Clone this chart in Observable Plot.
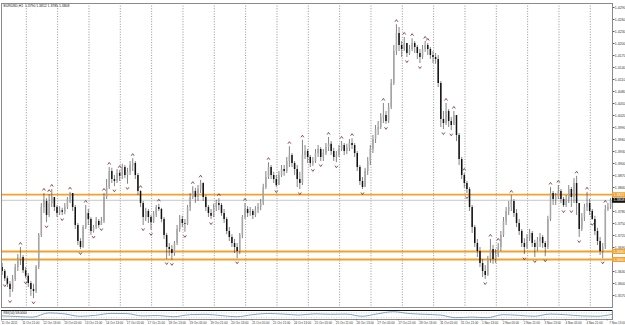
<!DOCTYPE html>
<html><head><meta charset="utf-8">
<script src="https://cdn.jsdelivr.net/npm/d3@7"></script>
<script src="https://cdn.jsdelivr.net/npm/@observablehq/plot@0.6"></script>
<style>
html,body{margin:0;padding:0;background:#fff;}
#chart svg{display:block;}
</style></head>
<body><div id="chart"></div>
<script>
// ---- data (EURUSD; one entry per 2 hourly bars) ----
const symbolName = "EURUSD,H1";
const firstOpen = 1.3640;
const closes = [
1.3630,1.3612,1.3598,1.3585,1.3610,1.3640,1.3660,1.3665,1.3632,1.3618,
1.3600,1.3585,1.3580,1.3640,1.3720,1.3790,1.3805,1.3770,1.3800,1.3815,
1.3790,1.3775,1.3782,1.3778,1.3790,1.3810,1.3825,1.3790,1.3745,1.3705,
1.3690,1.3740,1.3775,1.3760,1.3730,1.3740,1.3755,1.3745,1.3755,1.3815,
1.3840,1.3880,1.3860,1.3855,1.3875,1.3868,1.3890,1.3870,1.3878,1.3895,
1.3900,1.3870,1.3830,1.3800,1.3765,1.3780,1.3765,1.3752,1.3772,1.3790,
1.3785,1.3760,1.3720,1.3690,1.3685,1.3675,1.3700,1.3735,1.3760,1.3750,
1.3748,1.3790,1.3815,1.3830,1.3815,1.3835,1.3850,1.3815,1.3790,1.3775,
1.3768,1.3790,1.3800,1.3795,1.3775,1.3760,1.3730,1.3715,1.3700,1.3690,
1.3680,1.3720,1.3765,1.3785,1.3775,1.3780,1.3770,1.3785,1.3790,1.3800,
1.3840,1.3865,1.3890,1.3870,1.3860,1.3845,1.3870,1.3885,1.3880,1.3905,
1.3920,1.3900,1.3885,1.3860,1.3850,1.3920,1.3930,1.3915,1.3900,1.3905,
1.3925,1.3935,1.3915,1.3925,1.3940,1.3948,1.3930,1.3915,1.3920,1.3935,
1.3945,1.3930,1.3938,1.3950,1.3945,1.3925,1.3890,1.3855,1.3840,1.3880,
1.3905,1.3935,1.3960,1.3985,1.3990,1.4015,1.4020,1.4005,1.4040,1.4100,
1.4180,1.4225,1.4195,1.4185,1.4200,1.4175,1.4185,1.4200,1.4190,1.4175,
1.4165,1.4185,1.4195,1.4185,1.4170,1.4165,1.4160,1.4100,1.4010,1.4000,
1.4030,1.4005,1.3995,1.4020,1.3970,1.3910,1.3870,1.3850,1.3835,1.3790,
1.3740,1.3700,1.3680,1.3650,1.3630,1.3620,1.3660,1.3685,1.3660,1.3670,
1.3690,1.3720,1.3755,1.3780,1.3790,1.3805,1.3775,1.3750,1.3730,1.3700,
1.3690,1.3712,1.3725,1.3700,1.3690,1.3705,1.3715,1.3700,1.3690,1.3760,
1.3825,1.3810,1.3815,1.3830,1.3810,1.3795,1.3810,1.3835,1.3815,1.3850,
1.3800,1.3735,1.3765,1.3790,1.3800,1.3780,1.3760,1.3730,1.3705,1.3680,
1.3690,1.3785,1.3790,1.3808];
const highs = [
1.3650,1.3635,1.3618,1.3605,1.3620,1.3648,1.3672,1.3690,1.3670,1.3640,
1.3625,1.3605,1.3598,1.3645,1.3725,1.3800,1.3825,1.3812,1.3822,1.3835,
1.3815,1.3795,1.3792,1.3788,1.3800,1.3815,1.3828,1.3825,1.3795,1.3750,
1.3712,1.3745,1.3795,1.3785,1.3765,1.3745,1.3765,1.3760,1.3765,1.3825,
1.3860,1.3890,1.3888,1.3870,1.3885,1.3882,1.3898,1.3895,1.3888,1.3905,
1.3912,1.3905,1.3875,1.3832,1.3805,1.3788,1.3785,1.3770,1.3780,1.3795,
1.3798,1.3788,1.3765,1.3725,1.3700,1.3695,1.3705,1.3745,1.3770,1.3768,
1.3760,1.3795,1.3825,1.3842,1.3838,1.3845,1.3858,1.3852,1.3820,1.3795,
1.3785,1.3798,1.3808,1.3812,1.3800,1.3785,1.3765,1.3740,1.3722,1.3710,
1.3700,1.3725,1.3770,1.3800,1.3792,1.3790,1.3785,1.3792,1.3800,1.3810,
1.3848,1.3880,1.3902,1.3895,1.3878,1.3870,1.3880,1.3895,1.3895,1.3915,
1.3942,1.3925,1.3905,1.3895,1.3878,1.3958,1.3945,1.3935,1.3920,1.3915,
1.3935,1.3945,1.3940,1.3935,1.3950,1.3965,1.3955,1.3938,1.3930,1.3945,
1.3955,1.3950,1.3948,1.3960,1.3962,1.3950,1.3930,1.3895,1.3865,1.3888,
1.3915,1.3945,1.3970,1.3995,1.4005,1.4025,1.4050,1.4030,1.4050,1.4110,
1.4195,1.4247,1.4240,1.4205,1.4215,1.4200,1.4195,1.4212,1.4205,1.4195,
1.4185,1.4195,1.4205,1.4200,1.4190,1.4180,1.4175,1.4170,1.4105,1.4030,
1.4050,1.4035,1.4015,1.4030,1.4020,1.3975,1.3915,1.3875,1.3855,1.3840,
1.3795,1.3745,1.3710,1.3690,1.3660,1.3645,1.3668,1.3710,1.3695,1.3685,
1.3700,1.3730,1.3765,1.3790,1.3805,1.3820,1.3810,1.3785,1.3760,1.3735,
1.3712,1.3722,1.3735,1.3730,1.3708,1.3715,1.3725,1.3720,1.3705,1.3768,
1.3840,1.3830,1.3825,1.3845,1.3835,1.3815,1.3820,1.3845,1.3840,1.3862,
1.3868,1.3800,1.3775,1.3798,1.3828,1.3810,1.3785,1.3768,1.3738,1.3715,
1.3700,1.3795,1.3800,1.3812];
const lows = [
1.3620,1.3605,1.3590,1.3565,1.3578,1.3605,1.3630,1.3645,1.3625,1.3612,
1.3590,1.3568,1.3562,1.3575,1.3635,1.3715,1.3775,1.3752,1.3765,1.3790,
1.3780,1.3765,1.3770,1.3770,1.3772,1.3785,1.3800,1.3780,1.3735,1.3695,
1.3685,1.3688,1.3735,1.3745,1.3720,1.3726,1.3735,1.3738,1.3745,1.3750,
1.3810,1.3835,1.3850,1.3842,1.3850,1.3855,1.3860,1.3862,1.3848,1.3870,
1.3880,1.3860,1.3820,1.3790,1.3745,1.3755,1.3750,1.3733,1.3750,1.3765,
1.3780,1.3752,1.3710,1.3660,1.3668,1.3658,1.3668,1.3695,1.3728,1.3740,
1.3728,1.3745,1.3780,1.3810,1.3800,1.3805,1.3825,1.3805,1.3780,1.3765,
1.3760,1.3765,1.3780,1.3782,1.3768,1.3750,1.3722,1.3705,1.3690,1.3675,
1.3662,1.3672,1.3712,1.3760,1.3765,1.3768,1.3760,1.3765,1.3775,1.3782,
1.3795,1.3835,1.3860,1.3860,1.3850,1.3840,1.3845,1.3865,1.3868,1.3875,
1.3890,1.3890,1.3870,1.3840,1.3835,1.3845,1.3910,1.3900,1.3890,1.3893,
1.3900,1.3915,1.3905,1.3905,1.3920,1.3930,1.3920,1.3905,1.3902,1.3915,
1.3930,1.3920,1.3922,1.3930,1.3935,1.3915,1.3880,1.3845,1.3835,1.3840,
1.3870,1.3895,1.3925,1.3950,1.3970,1.3985,1.4000,1.3998,1.4000,1.4035,
1.4095,1.4170,1.4180,1.4165,1.4180,1.4165,1.4170,1.4180,1.4175,1.4160,
1.4150,1.4160,1.4178,1.4170,1.4160,1.4150,1.4148,1.4090,1.3990,1.3985,
1.3995,1.3990,1.3982,1.3995,1.3955,1.3895,1.3860,1.3838,1.3825,1.3780,
1.3725,1.3690,1.3665,1.3640,1.3615,1.3610,1.3618,1.3650,1.3648,1.3650,
1.3665,1.3680,1.3715,1.3745,1.3770,1.3780,1.3765,1.3740,1.3720,1.3690,
1.3672,1.3685,1.3705,1.3690,1.3665,1.3680,1.3690,1.3688,1.3667,1.3685,
1.3755,1.3795,1.3795,1.3810,1.3800,1.3790,1.3790,1.3800,1.3790,1.3800,
1.3770,1.3715,1.3730,1.3755,1.3780,1.3770,1.3758,1.3720,1.3695,1.3670,
1.3662,1.3685,1.3780,1.3785];
const fractalUp = [7,16,18,19,26,32,39,41,45,50,53,60,73,76,83,93,102,110,115,125,130,134,146,151,154,157,162,163,170,173,177,187,190,195,210,213,220,224,231];
const fractalDown = [1,3,9,12,17,23,30,35,38,43,48,54,57,63,65,70,80,90,105,114,119,122,128,138,147,155,160,169,172,178,185,200,204,208,215,218,221,226,230];
const levels = [1.3822, 1.3680, 1.3660];
const priceTicks = [1.4290,1.4260,1.4230,1.4200,1.4170,1.4140,1.4110,1.4080,1.4050,1.4020,1.3990,1.3960,1.3930,1.3900,1.3870,1.3840,1.3810,1.3780,1.3750,1.3720,1.3690,1.3660,1.3630,1.3600,1.3570];
const xLabels = ["11 Oct 2011","11 Oct 21:00","12 Oct 13:00","13 Oct 05:00","13 Oct 21:00","14 Oct 13:00","17 Oct 05:00","17 Oct 21:00","18 Oct 13:00","19 Oct 05:00","19 Oct 21:00","20 Oct 13:00","21 Oct 05:00","21 Oct 21:00","24 Oct 13:00","25 Oct 05:00","25 Oct 21:00","26 Oct 13:00","27 Oct 05:00","27 Oct 21:00","28 Oct 13:00","31 Oct 05:00","31 Oct 21:00","1 Nov 13:00","2 Nov 05:00","2 Nov 21:00","3 Nov 13:00","4 Nov 05:00","4 Nov 21:00","7 Nov 13:00"];
const indicatorName = "RSI(14)";
const rsiValues = [45,40,35,70,62,42,50,66,64,45,48,38,55,58,48,38,55,65,60,52,62,58,60,42,62,80,65,58,52,30,35,30,55,50,42,60,55,45,42,58];

// ---- derived structures ----
const barsPerCandle = 2, firstDayStartBar = 19, barsPerDay = 24, labelEvery = 16, rsiEvery = 12;
const nBars = 468;
const candles = closes.map((c, i) => ({
  bar: i * barsPerCandle + 0.5,
  open: i ? closes[i - 1] : firstOpen, close: c, high: highs[i], low: lows[i]
}));
const dayStarts = d3.range(firstDayStartBar, nBars, barsPerDay);
const xTicks = xLabels.map((t, k) => ({bar: k * labelEvery, t}));
const rsi = rsiValues.map((v, k) => ({bar: k * rsiEvery, v}));
const last = candles[candles.length - 1];
const title = `${symbolName}  ${last.open.toFixed(4)} ${last.high.toFixed(4)} ${last.low.toFixed(4)} ${last.close.toFixed(4)}`;
const xEnd = nBars, xLab = nBars + 10;
const chevUp = {draw(ctx, size){ const s = Math.sqrt(size) * 0.55; ctx.moveTo(-s, s*0.7); ctx.lineTo(0, -s*0.7); ctx.lineTo(s, s*0.7); }};
const chevDown = {draw(ctx, size){ const s = Math.sqrt(size) * 0.55; ctx.moveTo(-s, -s*0.7); ctx.lineTo(0, s*0.7); ctx.lineTo(s, -s*0.7); }};
const orange = "#f2a22c";
const font = {fontFamily: "'Liberation Sans', Arial, sans-serif", background: "#fff", color: "#222"};

const main = Plot.plot({
  width: 625, height: 309, marginLeft: 1, marginRight: 13, marginTop: 3, marginBottom: 2,
  style: font,
  x: {domain: [0, nBars], axis: null},
  y: {domain: [1.3540, 1.4300], axis: null},
  marks: [
    Plot.ruleX(dayStarts, {stroke: "#777", strokeDasharray: "1,1.6", strokeWidth: 0.8}),
    Plot.ruleY([last.close], {stroke: "#c9c9c9", strokeWidth: 1}),
    Plot.ruleY(levels, {stroke: orange, strokeWidth: 1.8}),
    Plot.ruleX(candles, {x: "bar", y1: d => Math.min(d.low, d.open, d.close), y2: d => Math.max(d.high, d.open, d.close), stroke: "#333", strokeWidth: 0.6}),
    Plot.ruleX(candles.filter(d => d.close >= d.open), {x: "bar", y1: "open", y2: "close", stroke: "#a6a6a6", strokeWidth: 1.5}),
    Plot.ruleX(candles.filter(d => d.close < d.open), {x: "bar", y1: "open", y2: "close", stroke: "#111", strokeWidth: 1.5}),
    Plot.dot(fractalUp.map(i => candles[i]), {x: "bar", y: "high", symbol: chevUp, r: 1.5, stroke: "#7a2424", strokeWidth: 0.8, fill: "none", dy: -4}),
    Plot.dot(fractalDown.map(i => candles[i]), {x: "bar", y: "low", symbol: chevDown, r: 1.5, stroke: "#7a2424", strokeWidth: 0.8, fill: "none", dy: 4}),
    Plot.frame({stroke: "#8a8a8a"}),
    Plot.axisY({anchor: "right", ticks: priceTicks, tickFormat: d => d.toFixed(4), fontSize: 3.6, tickSize: 1.5, tickPadding: 0.8, stroke: "#555", fill: "#333"}),
    Plot.ruleY(levels, {x1: xEnd, x2: xLab, stroke: orange, strokeWidth: 5}),
    Plot.text(levels, {x: xEnd, y: d => d, text: d => d.toFixed(4), textAnchor: "start", dx: 1, fontSize: 3.6, fill: "#fff"}),
    Plot.ruleY([last.close], {x1: xEnd, x2: xLab, stroke: "#111", strokeWidth: 5}),
    Plot.text([last.close], {x: xEnd, y: d => d, text: d => d.toFixed(4), textAnchor: "start", dx: 1, fontSize: 3.6, fill: "#fff"}),
    Plot.text([title], {frameAnchor: "top-left", dx: 2, dy: 1, fontSize: 3.4, fill: "#111"})
  ]
});

const body = xTicks.slice(0, -1), tail = xTicks.slice(-1);
const ind = Plot.plot({
  width: 625, height: 16, marginLeft: 1, marginRight: 13, marginTop: 1, marginBottom: 6,
  style: font,
  x: {domain: [0, nBars], axis: null},
  y: {domain: [15, 90], axis: null},
  marks: [
    Plot.ruleY([30, 70], {stroke: "#bdbdbd", strokeDasharray: "1,1.5", strokeWidth: 0.7}),
    Plot.line(rsi, {x: "bar", y: "v", stroke: "#5a8dbf", strokeWidth: 0.8, curve: "monotone-x"}),
    Plot.frame({stroke: "#8a8a8a"}),
    Plot.ruleY([90], {stroke: "#111", strokeWidth: 1.2}),
    Plot.text([`${indicatorName} ${rsiValues[rsiValues.length - 1].toFixed(4)}`], {frameAnchor: "top-left", dx: 2, dy: 1.5, fontSize: 3.2, fill: "#222"}),
    Plot.ruleX(xTicks, {x: "bar", y1: 15, y2: 3, stroke: "#555", strokeWidth: 0.6}),
    Plot.text(body, {x: "bar", text: "t", frameAnchor: "bottom", textAnchor: "start", lineAnchor: "top", dy: 2, fontSize: 3.0, fill: "#333"}),
    Plot.text(tail, {x: xLab, text: "t", frameAnchor: "bottom", textAnchor: "end", lineAnchor: "top", dy: 2, fontSize: 3.0, fill: "#333"})
  ]
});

document.getElementById("chart").append(main, ind);
</script>
</body></html>
